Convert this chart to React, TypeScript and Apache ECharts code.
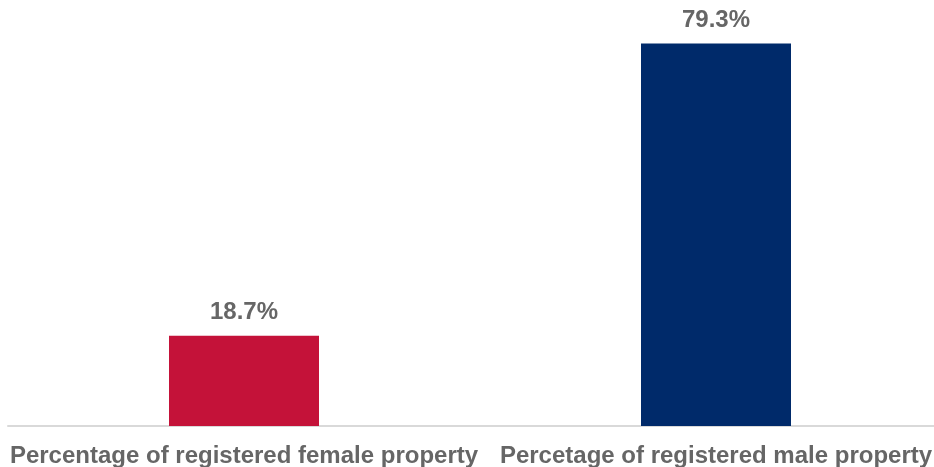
import React, { useEffect, useRef } from "react";
import * as echarts from "echarts";

const categories = [
  "Percentage of registered female property",
  "Percetage of registered male property",
];
const values = [18.7, 79.3];
const barColors = ["#C41239", "#002A6A"];

export default function App() {
  const ref = useRef<HTMLDivElement>(null);
  useEffect(() => {
    if (!ref.current) return;
    const chart = echarts.init(ref.current, undefined, { renderer: "svg" });
    chart.setOption({
      animation: false,
      grid: { left: 8, right: 0, top: 40, bottom: 41, containLabel: false },
      xAxis: {
        type: "category",
        data: categories,
        axisLine: { show: true, lineStyle: { color: "#D9D9D9", width: 2 } },
        axisTick: { show: false },
        axisLabel: {
          interval: 0,
          margin: 16,
          color: "#666666",
          fontFamily: "Liberation Sans, Arial, sans-serif",
          fontWeight: "bold",
          fontSize: 24,
        },
      },
      yAxis: {
        type: "value",
        min: 0,
        max: 80,
        show: false,
        splitLine: { show: false },
      },
      series: [
        {
          type: "bar",
          barWidth: 150,
          data: values.map((v, i) => ({ value: v, itemStyle: { color: barColors[i] } })),
          label: {
            show: true,
            position: "top",
            distance: 13,
            formatter: (p: any) => p.value.toFixed(1) + "%",
            color: "#666666",
            fontFamily: "Liberation Sans, Arial, sans-serif",
            fontWeight: "bold",
            fontSize: 24,
          },
        },
      ],
    });
    return () => chart.dispose();
  }, []);
  return (
    <div style={{ position: "fixed", left: 0, top: 0, width: 934, height: 467, overflow: "hidden" }}>
      <div ref={ref} style={{ width: 952, height: 467 }} />
    </div>
  );
}
